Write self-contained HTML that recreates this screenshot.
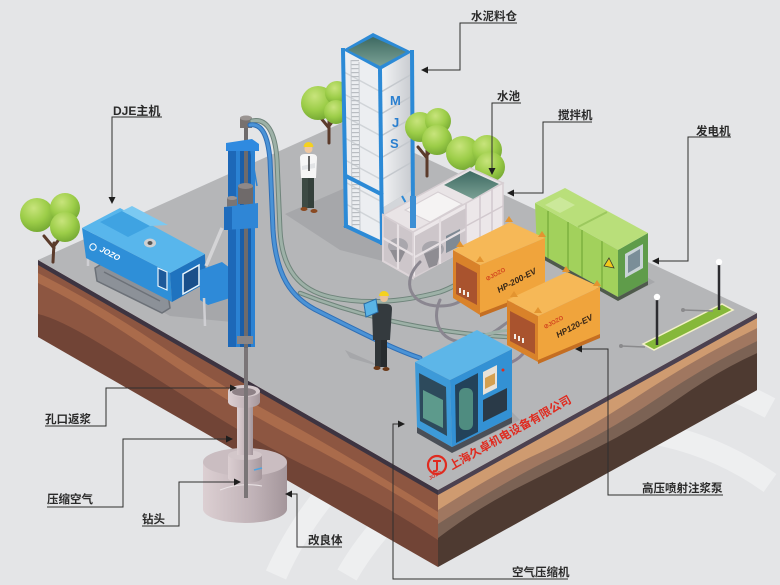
<!DOCTYPE html>
<html><head><meta charset="utf-8"><title>MJS</title>
<style>
html,body{margin:0;padding:0;background:#e4e5e7;width:780px;height:585px;overflow:hidden;}
svg{display:block;}
.l{font-family:"Liberation Sans","Noto Sans CJK SC",sans-serif;font-size:11.5px;font-weight:bold;fill:#2a2a2a;}
</style></head><body>
<svg width="780" height="585" viewBox="0 0 780 585" xmlns="http://www.w3.org/2000/svg">
<defs>
 <radialGradient id="lf" cx="0.4" cy="0.3" r="0.75">
  <stop offset="0" stop-color="#c8e47c"/><stop offset="0.55" stop-color="#9ccd48"/><stop offset="1" stop-color="#72a631"/>
 </radialGradient>
 <linearGradient id="cyl" x1="0" x2="1" y1="0" y2="0">
  <stop offset="0" stop-color="#dccfd2"/><stop offset="0.6" stop-color="#c0b2b7"/><stop offset="1" stop-color="#a4969b"/>
 </linearGradient>
 <linearGradient id="siloR" x1="0" x2="1" y1="0" y2="0">
  <stop offset="0" stop-color="#f4f5f6"/><stop offset="1" stop-color="#c8cbd0"/>
 </linearGradient>
 <linearGradient id="pool" x1="0" x2="0" y1="0" y2="1">
  <stop offset="0" stop-color="#3e6a62"/><stop offset="1" stop-color="#7aa094"/>
 </linearGradient>
</defs>

<rect width="780" height="585" fill="#e4e5e7"/>
<g fill="none" stroke="#eeeff0" stroke-width="22">
 <path d="M276,575 A355,355 0 0 1 770,408"/>
 <path d="M347,575 A292,292 0 0 1 770,483"/>
</g>

<!-- slab left face -->
<g transform="translate(38,260) skewY(29.9)">
 <rect width="400" height="77" fill="#714436"/>
 <path d="M0,0 H400 V50 Q340,45 280,51 T160,53 T60,48 T0,54 Z" fill="#8d5641"/>
 <path d="M0,13 Q60,9 120,15 T240,19 T400,22 V30 Q330,26 260,30 T120,26 T0,23 Z" fill="#aa6b4b"/>
 <rect width="400" height="5" fill="#3d3441"/>
</g>
<!-- slab right face -->
<g transform="translate(438,490) skewY(-29)">
 <rect width="319" height="77" fill="#4e3a31"/>
 <path d="M0,0 H319 V40 Q280,36 240,42 T160,46 T80,42 T0,48 Z" fill="#7b6254"/>
 <path d="M0,0 H319 V28 Q270,24 220,30 T120,32 T0,34 Z" fill="#a07760"/>
 <path d="M0,0 H319 V15 Q260,11 200,17 T100,19 T0,20 Z" fill="#cf9b70"/>
 <rect width="319" height="5" fill="#4b4150"/>
</g>
<!-- slab top -->
<polygon points="38,260 346,121 757,313 438,490" fill="#b5b6b8"/>

<!-- ground shadows -->
<g fill="#a6a7aa">
 <polygon points="285,214 345,188 440,232 410,268 340,250"/>
 <polygon points="100,276 170,316 232,322 238,292 205,262"/>
 <polygon points="540,256 620,300 655,282 610,255"/>
 <polygon points="418,430 455,452 520,420 505,405"/>
 <polygon points="345,350 372,362 378,366 350,358"/>
</g>

<!-- tree behind silo -->
<path d="M329,143 L329,120 M329,128 L320,117 M329,126 L337,116" stroke="#5b3b2b" stroke-width="3" stroke-linecap="round" fill="none"/>
<circle cx="318" cy="103" r="17" fill="url(#lf)"/>
<circle cx="337" cy="93" r="12" fill="url(#lf)"/>
<circle cx="336" cy="112" r="12" fill="url(#lf)"/>

<!-- silo -->
<polygon points="343,50 380,70 382,243 346,226" fill="#eceef1"/>
<g stroke="#d0d4d8" stroke-width="1.5">
 <line x1="344" y1="72" x2="381" y2="92"/><line x1="344" y1="94" x2="381" y2="114"/>
 <line x1="344" y1="116" x2="381" y2="136"/><line x1="345" y1="138" x2="381" y2="158"/>
 <line x1="345" y1="160" x2="382" y2="180"/><line x1="345" y1="182" x2="382" y2="202"/>
 <line x1="346" y1="204" x2="382" y2="224"/>
</g>
<line x1="355" y1="60" x2="356" y2="228" stroke="#b9bdc2" stroke-width="8" stroke-dasharray="1.2 2.8"/>
<line x1="351" y1="60" x2="352" y2="228" stroke="#c3c7cc" stroke-width="1"/>
<line x1="359" y1="62" x2="360" y2="230" stroke="#c3c7cc" stroke-width="1"/>
<polygon points="380,70 412,52 412,190 382,208" fill="url(#siloR)"/>
<g stroke="#c4c8cd" stroke-width="1.5">
 <line x1="381" y1="92" x2="412" y2="74"/><line x1="381" y1="114" x2="412" y2="96"/>
 <line x1="381" y1="136" x2="412" y2="118"/><line x1="381" y1="158" x2="412" y2="140"/>
 <line x1="381" y1="180" x2="412" y2="162"/>
</g>
<polygon points="382,208 412,190 404,222 390,230" fill="#d3d6da"/>
<g font-family="Liberation Sans, sans-serif" font-weight="bold" font-size="13" fill="#2a7fcf">
 <text x="390" y="105">M</text><text x="392" y="127">J</text><text x="390" y="148">S</text>
</g>
<g stroke="#2c8ad6" stroke-width="4" fill="none" stroke-linecap="square">
 <line x1="343" y1="50" x2="346" y2="226"/>
 <line x1="380" y1="70" x2="382" y2="243"/>
 <line x1="412" y1="52" x2="413" y2="216"/>
 <line x1="346" y1="226" x2="382" y2="243"/>
 <line x1="346" y1="176" x2="381" y2="194"/>
</g>
<line x1="402" y1="196" x2="412" y2="214" stroke="#2c8ad6" stroke-width="2"/>
<polygon points="343,50 373,33 412,52 380,70" fill="#2c8ad6"/>
<polygon points="348,50 373,37 406,52 380,66" fill="url(#pool)"/>

<!-- trees right of silo -->
<path d="M427,176 L427,148 M427,158 L418,147 M427,155 L436,145" stroke="#5b3b2b" stroke-width="3" stroke-linecap="round" fill="none"/>
<circle cx="420" cy="127" r="15" fill="url(#lf)"/>
<circle cx="438" cy="121" r="13" fill="url(#lf)"/>
<circle cx="437" cy="140" r="15" fill="url(#lf)"/>
<circle cx="463" cy="153" r="17" fill="url(#lf)"/>
<circle cx="487" cy="150" r="15" fill="url(#lf)"/>
<circle cx="490" cy="167" r="15" fill="url(#lf)"/>

<!-- mixer unit -->
<polygon points="383,215 413,232 413,278 383,261" fill="#cdc6ca" stroke="#ddd5d9" stroke-width="2"/>
<ellipse cx="398" cy="246" rx="10" ry="8" fill="#a9a7ad"/>
<polygon points="390,250 406,250 400,262 396,262" fill="#8f8d93"/>
<polygon points="413,232 503,183 503,229 413,278" fill="#ece7e9" stroke="#d6ced2" stroke-width="1.5"/>
<polygon points="415,236 466,208 466,250 415,276" fill="#cdc6ca"/>
<ellipse cx="433" cy="249" rx="11" ry="8" fill="#a8a6ac"/>
<polygon points="424,254 442,246 437,265 429,268" fill="#8e8c92"/>
<polygon points="446,236 460,229 460,246 446,253" fill="#7f8a94"/>
<g stroke="#e6e0e3" stroke-width="2.2">
 <line x1="440" y1="218" x2="440" y2="264"/><line x1="415" y1="257" x2="466" y2="229"/>
 <line x1="398" y1="223" x2="398" y2="269"/><line x1="383" y1="238" x2="413" y2="255"/>
</g>
<g stroke="#d2c9ce" stroke-width="1.5">
 <line x1="466" y1="203" x2="466" y2="249"/><line x1="480" y1="195" x2="480" y2="241"/>
 <line x1="492" y1="189" x2="492" y2="235"/><line x1="466" y1="226" x2="503" y2="206"/>
</g>
<polygon points="383,215 470,168 503,183 413,232" fill="#e9e4e6" stroke="#d6ced2" stroke-width="1.5"/>
<polygon points="405,210 438,192 462,204 430,222" fill="#f5f3f3" stroke="#d6cfd3"/>
<polygon points="444,185 470,171 499,184 473,199" fill="url(#pool)"/>
<rect x="410" y="196" width="6" height="32" fill="#3c8fd4"/>

<!-- generator -->
<polygon points="535,203 618,250 618,297 537,252" fill="#a2d15c"/>
<g stroke="#86b946" stroke-width="2">
 <line x1="548" y1="211" x2="548" y2="258"/><line x1="568" y1="222" x2="568" y2="269"/>
 <line x1="582" y1="230" x2="582" y2="277"/><line x1="602" y1="241" x2="602" y2="288"/>
</g>
<polygon points="618,250 648,233 648,281 618,297" fill="#5f9c4a"/>
<polygon points="535,203 565,188 648,233 618,250" fill="#b9df7a"/>
<line x1="578" y1="227" x2="607" y2="212" stroke="#9cc85e" stroke-width="2"/>
<polygon points="545,205 560,197 575,205 560,213" fill="#cbe89a"/>
<polygon points="625,254 643,244 643,268 625,278" fill="#c9d3d6"/>
<polygon points="628,256 640,249 640,266 628,273" fill="#7a8e98"/>
<polygon points="609,258 614,268 604,266" fill="#f2c91c" stroke="#3a3a2a" stroke-width="0.8"/>
<polygon points="537,252 618,297 648,281 648,285 618,301 537,256" fill="#4f5a4c"/>

<!-- left tree -->
<path d="M53,262 L54,243 M54,248 L44,236 M54,246 L63,234" stroke="#5b3b2b" stroke-width="3" stroke-linecap="round" fill="none"/>
<circle cx="37" cy="215" r="17" fill="url(#lf)"/>
<circle cx="65" cy="208" r="15" fill="url(#lf)"/>
<circle cx="65" cy="227" r="15" fill="url(#lf)"/>

<!-- DJE machine -->
<polygon points="95,268 105,262 168,294 170,308 162,313 97,281" fill="#8c9198" stroke="#6c7178" stroke-width="1.5"/>
<line x1="104" y1="272" x2="160" y2="301" stroke="#6c7178" stroke-width="1.5"/>
<line x1="88" y1="229" x2="88" y2="266" stroke="#cfcfd3" stroke-width="2.5"/>
<polygon points="82,228 170,273 172,302 86,258" fill="#2e8fd8"/>
<polygon points="170,273 205,254 206,283 172,302" fill="#1f73bf"/>
<polygon points="82,228 120,208 205,254 170,273" fill="#58b6ec"/>
<polygon points="100,222 122,211 150,226 128,237" fill="#3fa3e2"/>
<polygon points="122,211 132,206 168,225 150,226" fill="#7bc9f2"/>
<ellipse cx="150" cy="243" rx="6" ry="4.5" fill="#cfd0d2"/>
<ellipse cx="150" cy="243" rx="2.5" ry="2" fill="#555"/>
<polygon points="183,274 199,265 199,285 183,294" fill="#1a4f8a" stroke="#eaf6fd" stroke-width="1.5"/>
<polygon points="158,268 167,272 167,290 158,286" fill="#1d5a9a" stroke="#eaf6fd" stroke-width="1.2"/>
<circle cx="93" cy="247" r="3.2" fill="none" stroke="#fff" stroke-width="1"/>
<text transform="translate(99,251) rotate(27)" font-family="Liberation Sans, sans-serif" font-size="8" font-weight="bold" font-style="italic" fill="#fff">JOZO</text>
<polygon points="200,270 222,262 230,268 230,298 208,305 200,300" fill="#2e8ad8"/>
<line x1="206" y1="266" x2="222" y2="228" stroke="#d4d4d6" stroke-width="3.5"/>
<line x1="204" y1="298" x2="205" y2="326" stroke="#cfcfd3" stroke-width="2.5"/>

<!-- mast -->
<rect x="228" y="147" width="27" height="200" fill="#2b82d3"/>
<rect x="228" y="147" width="8" height="200" fill="#1d68b8"/>
<rect x="240" y="147" width="11" height="200" fill="#1a5ea8"/>
<rect x="244" y="118" width="4" height="230" fill="#6e6b6c"/>
<rect x="240" y="118" width="12" height="10" fill="#77716f"/>
<ellipse cx="246" cy="118" rx="6" ry="2.5" fill="#9a9492"/>
<polygon points="226,143 252,139 259,144 259,151 226,151" fill="#2f8ae0"/>
<line x1="251" y1="151" x2="257" y2="186" stroke="#2b82d3" stroke-width="1.5"/>
<rect x="238" y="186" width="15" height="18" fill="#6f6a6a"/>
<ellipse cx="245.5" cy="186" rx="7.5" ry="3" fill="#8e8888"/>
<rect x="227" y="198" width="10" height="12" fill="#7a7575"/>
<ellipse cx="232" cy="198" rx="5" ry="2" fill="#9a9494"/>
<polygon points="224,207 258,203 258,228 224,230" fill="#2f86d6"/>
<rect x="224" y="207" width="8" height="23" fill="#1f6cbc"/>
<rect x="237" y="336" width="16" height="8" fill="#8a8687"/>

<!-- worker 1 -->
<rect x="302" y="177" width="6" height="31" fill="#3d4a44"/>
<rect x="308" y="177" width="6" height="31" fill="#34403b"/>
<ellipse cx="304" cy="209" rx="3.5" ry="2" fill="#8a4a22"/>
<ellipse cx="314" cy="211" rx="3.5" ry="2" fill="#8a4a22"/>
<path d="M300,158 Q300,154 305,154 L312,154 Q317,154 317,158 L316,178 L301,178 Z" fill="#f6f6f6"/>
<path d="M302,166 L315,163 L315,168 L302,170 Z" fill="#e2e4e6"/>
<line x1="309" y1="156" x2="309" y2="171" stroke="#333" stroke-width="1.5"/>
<circle cx="308.5" cy="149" r="4" fill="#efc7a0"/>
<path d="M303.5,147 A5,5 0 0 1 313.5,147 Z" fill="#f4d11e"/>

<!-- hoses -->
<g fill="none" stroke-linecap="round">
 <path d="M252,121 C266,118 275,130 277,160 L280,230 C282,270 300,290 330,297 C370,306 410,300 440,292 C452,288 458,283 466,280" stroke="#6f847b" stroke-width="5"/>
 <path d="M252,121 C266,118 275,130 277,160 L280,230 C282,270 300,290 330,297 C370,306 410,300 440,292 C452,288 458,283 466,280" stroke="#9db1a7" stroke-width="3"/>
 <path d="M300,293 C350,313 420,332 508,337" stroke="#6f847b" stroke-width="4.5"/>
 <path d="M300,293 C350,313 420,332 508,337" stroke="#9db1a7" stroke-width="2.5"/>
 <path d="M250,125 C262,123 268,136 270,160 L273,230 C276,275 290,298 320,312 C360,332 395,350 420,358" stroke="#2f6fb6" stroke-width="5"/>
 <path d="M250,125 C262,123 268,136 270,160 L273,230 C276,275 290,298 320,312 C360,332 395,350 420,358" stroke="#4b93d6" stroke-width="3"/>
 <path d="M420,262 C400,282 410,306 440,306 C462,306 470,294 468,286" stroke="#8a8690" stroke-width="3"/>
 <path d="M440,300 C430,322 442,346 470,341 C490,338 500,327 508,322" stroke="#8a8690" stroke-width="3"/>
 <path d="M512,362 C525,356 528,346 530,340" stroke="#8a8090" stroke-width="3"/>
 <path d="M475,338 C492,332 505,330 515,330" stroke="#9db1a7" stroke-width="3"/>
</g>

<!-- pump HP-200-EV -->
<polygon points="453,250 480,265 480,315 453,298" fill="#d9822a"/>
<polygon points="456,262 477,273 477,305 456,294" fill="#a9532e"/>
<g fill="#f2ece6"><rect x="459" y="288" width="2" height="5"/><rect x="463" y="290" width="2" height="5"/><rect x="467" y="292" width="2" height="5"/></g>
<polygon points="480,265 545,238 545,290 480,315" fill="#f0a43c"/>
<polygon points="453,250 510,222 545,238 480,265" fill="#f6b857"/>
<g fill="#e39430"><polygon points="456,247 460,241 464,247"/><polygon points="505,222 509,216 513,222"/><polygon points="538,237 542,231 546,237"/><polygon points="476,262 480,256 484,262"/></g>
<polygon points="480,313 545,288 545,292 480,317" fill="#c46e22"/>
<text transform="translate(487,281) rotate(-28)" font-family="Liberation Sans, sans-serif" font-size="6" font-weight="bold" fill="#d2451e">⊘JOZO</text>
<text transform="translate(499,293) rotate(-28)" font-family="Liberation Sans, sans-serif" font-size="8.5" font-weight="bold" font-style="italic" fill="#3a2818">HP-200-EV</text>

<!-- pump HP120-EV -->
<polygon points="507,300 538,316 538,362 507,345" fill="#d9822a"/>
<polygon points="510,311 535,324 535,354 510,341" fill="#a9532e"/>
<g fill="#f2ece6"><rect x="514" y="334" width="2" height="5"/><rect x="518" y="336" width="2" height="5"/><rect x="522" y="338" width="2" height="5"/></g>
<polygon points="538,316 600,287 600,336 538,362" fill="#f0a43c"/>
<polygon points="507,300 567,272 600,287 538,316" fill="#f6b857"/>
<g fill="#e39430"><polygon points="510,297 514,291 518,297"/><polygon points="562,272 566,266 570,272"/><polygon points="593,286 597,280 601,286"/><polygon points="534,313 538,307 542,313"/></g>
<polygon points="538,360 600,334 600,338 538,364" fill="#c46e22"/>
<text transform="translate(545,329) rotate(-28)" font-family="Liberation Sans, sans-serif" font-size="6" font-weight="bold" fill="#d2451e">⊘JOZO</text>
<text transform="translate(558,338) rotate(-28)" font-family="Liberation Sans, sans-serif" font-size="8.5" font-weight="bold" font-style="italic" fill="#3a2818">HP120-EV</text>

<!-- worker 2 -->
<rect x="375" y="338" width="6" height="29" fill="#2f3538"/>
<rect x="381" y="338" width="6" height="29" fill="#272c2f"/>
<ellipse cx="377" cy="368" rx="3.5" ry="2" fill="#6a3a1a"/>
<ellipse cx="386" cy="369" rx="3.5" ry="2" fill="#6a3a1a"/>
<path d="M372,309 Q372,304 377,304 L387,304 Q392,304 392,309 L390,340 L373,340 Z" fill="#343a3e"/>
<circle cx="384" cy="298" r="4" fill="#e8c09a"/>
<path d="M379,296 A5,5 0 0 1 389,296 Z" fill="#f4d11e"/>
<polygon points="364,304 376,299 378,312 366,317" fill="#5ab4e6" stroke="#2a6ea8" stroke-width="1"/>

<!-- air compressor -->
<polygon points="417,427 452,447 512,417 512,423 452,453 417,433" fill="#4a4f57"/>
<polygon points="415,362 450,380 452,447 417,427" fill="#3d9ad8"/>
<polygon points="419,373 446,387 447,436 420,421" fill="#2d4a5c"/>
<polygon points="423,390 443,400 443,428 423,418" fill="#5d9a8c"/>
<polygon points="450,380 512,349 512,417 452,447" fill="#3391d4"/>
<polygon points="455,385 478,373 478,432 456,443" fill="#23425a"/>
<rect x="459" y="388" width="14" height="42" rx="6" fill="#4f8c80"/>
<polygon points="483,372 497,365 497,388 483,395" fill="#e8e2d8"/>
<polygon points="485,378 495,373 495,384 485,389" fill="#d4a050"/>
<polygon points="483,400 507,388 507,410 483,422" fill="#2a3a48"/>
<circle cx="503" cy="370" r="1.5" fill="#e02a1f"/>
<polygon points="415,362 477,330 512,349 450,380" fill="#5db6e8"/>

<!-- lamps -->
<polygon points="643,344 722,304 733,310 654,350" fill="#86b83a" stroke="#f3f1c8" stroke-width="1.5"/>
<g stroke="#8a8a8c" stroke-width="1.5"><line x1="621" y1="346" x2="645" y2="347"/><line x1="683" y1="310" x2="713" y2="311"/></g>
<circle cx="621" cy="346" r="2" fill="#8a8a8c"/><circle cx="683" cy="310" r="2" fill="#8a8a8c"/>
<line x1="657" y1="298" x2="657" y2="345" stroke="#2c2c30" stroke-width="2.5"/>
<line x1="719" y1="263" x2="719" y2="310" stroke="#2c2c30" stroke-width="2.5"/>
<circle cx="657" cy="297" r="3.2" fill="#fff"/><circle cx="719" cy="262" r="3.2" fill="#fff"/>

<!-- company name -->
<circle cx="437" cy="465" r="9" fill="none" stroke="#e02a1f" stroke-width="2.2"/>
<path d="M433,461 L441,461 M437,461 L437,469 Q437,472 433,471" stroke="#e02a1f" stroke-width="2" fill="none"/>
<text transform="translate(430,480) rotate(-29)" font-family="Liberation Sans, sans-serif" font-size="5" font-weight="bold" fill="#e02a1f">JOZO</text>
<text transform="translate(452,470) rotate(-29.5)" font-family="Liberation Sans, 'Noto Sans CJK SC', sans-serif" font-size="11.5" font-weight="bold" fill="#e02a1f">上海久卓机电设备有限公司</text>

<!-- underground -->
<path d="M203,462 L203,509 A42,14 0 0 0 287,509 L287,462 Z" fill="url(#cyl)"/>
<ellipse cx="245" cy="462" rx="42" ry="14" fill="#cabdc1"/>
<path d="M228,455 L228,478 A17,5 0 0 0 262,478 L262,455 Z" fill="url(#cyl)" opacity="0.95"/>
<ellipse cx="245" cy="455" rx="17" ry="5" fill="#d3c7ca"/>
<rect x="237" y="402" width="16" height="53" fill="url(#cyl)"/>
<path d="M228,391 L228,402 A16,6 0 0 0 260,402 L260,391 Z" fill="url(#cyl)"/>
<ellipse cx="244" cy="391" rx="16" ry="6" fill="#d6cacd"/>
<ellipse cx="244" cy="392" rx="12" ry="4" fill="#8e8186"/>
<path d="M220,490 Q240,482 262,486" stroke="#eae3e5" stroke-width="1" fill="none"/>
<rect x="244" y="348" width="4" height="150" fill="#7a7577"/>
<line x1="254" y1="470" x2="262" y2="468" stroke="#4fa4e0" stroke-width="1.5"/>

<!-- leader lines -->
<g stroke="#2e2e2e" stroke-width="1" fill="none">
 <path d="M162,117 H112 V198"/>
 <path d="M517,23 H460 V70 H427"/>
 <path d="M521,103 H492 V169"/>
 <path d="M592,122 H543 V193 H513"/>
 <path d="M731,137 H688 V261 H658"/>
 <path d="M723,495 H608 V349 H581"/>
 <path d="M568,579 H393 V424 H399"/>
 <path d="M45,426 H106 V388 H231"/>
 <path d="M47,507 H123 V439 H227"/>
 <path d="M142,526 H179 V482 H235"/>
 <path d="M342,547 H297 V494 H291"/>
</g>
<g fill="#1e1e1e">
 <polygon points="108.5,197 115.5,197 112,204"/>
 <polygon points="428,66.5 428,73.5 421,70"/>
 <polygon points="488.5,168 495.5,168 492,175"/>
 <polygon points="514,189.5 514,196.5 507,193"/>
 <polygon points="659,257.5 659,264.5 652,261"/>
 <polygon points="582,345.5 582,352.5 575,349"/>
 <polygon points="398,420.5 398,427.5 405,424"/>
 <polygon points="230,384.5 230,391.5 237,388"/>
 <polygon points="226,435.5 226,442.5 233,439"/>
 <polygon points="234,478.5 234,485.5 241,482"/>
 <polygon points="292,490.5 292,497.5 285,494"/>
</g>
<g class="l">
 <text x="113" y="115" style="font-size:12px">DJE主机</text>
 <text x="471" y="20">水泥料仓</text>
 <text x="497" y="100">水池</text>
 <text x="558" y="119">搅拌机</text>
 <text x="696" y="135">发电机</text>
 <text x="642" y="492">高压喷射注浆泵</text>
 <text x="512" y="576">空气压缩机</text>
 <text x="45" y="423">孔口返浆</text>
 <text x="47" y="503">压缩空气</text>
 <text x="142" y="523">钻头</text>
 <text x="308" y="544">改良体</text>
</g>
</svg>
</body></html>
